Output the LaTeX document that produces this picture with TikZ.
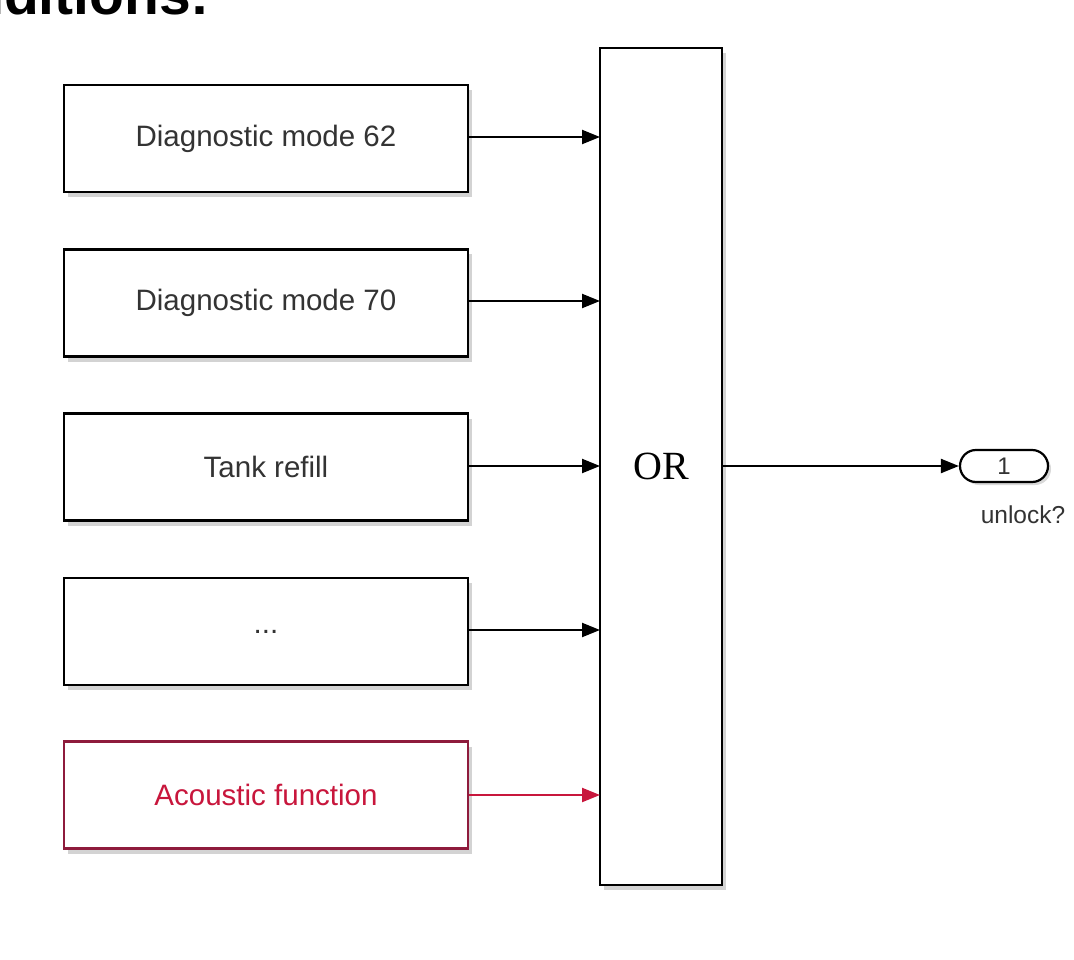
\documentclass[tikz,border=0pt]{standalone}
\usepackage{fontspec}
\setmainfont{Liberation Sans}
\newfontfamily\serifor{Liberation Serif}
\usetikzlibrary{arrows.meta,shadows}
\definecolor{txtgray}{HTML}{333333}
\definecolor{redborder}{HTML}{8E1B3C}
\definecolor{redtext}{HTML}{C8163C}
\begin{document}
\begin{tikzpicture}[x=1pt,y=-1pt,
  blk/.style={draw=black, line width=2.8pt, fill=white, minimum width=404pt, minimum height=107pt, inner sep=0pt,
    font=\fontsize{29.5}{32}\selectfont, text=txtgray,
    drop shadow={shadow xshift=4pt, shadow yshift=-5pt, opacity=0.35}},
  redblk/.style={blk, draw=redborder, text=redtext},
  conn/.style={line width=2.2pt, -{Triangle[length=18pt,width=14pt]}},
  redconn/.style={conn, draw=redtext},
]
\useasboundingbox (0,0) rectangle (1074,960);
\begin{scope}
\clip (0,0) rectangle (1074,960);
\node[anchor=base east, inner sep=0pt, font=\bfseries\fontsize{57}{60}\selectfont] (title) at (210,15) {conditions:};
\end{scope}
\node[blk] (b1) at (266,138.5) {Diagnostic mode 62};
\node[blk] (b2) at (266,303) {Diagnostic mode 70};
\node[blk] (b3) at (266,467) {Tank refill};
\node[blk] (b4) at (266,631.5) {...};
\node[redblk] (b5) at (266,795) {Acoustic function};
\node[draw=black, line width=2.8pt, fill=white, minimum width=122pt, minimum height=837pt, inner sep=0pt,
  font=\serifor\fontsize{40}{44}\selectfont,
  drop shadow={shadow xshift=4pt, shadow yshift=-5pt, opacity=0.35}] (or) at (661,466.5) {OR};
\node[draw=black, fill=white, line width=2.2pt, rounded corners=16pt, minimum width=88pt, minimum height=32pt, inner sep=0pt,
  font=\fontsize{24}{26}\selectfont, text=txtgray,
  drop shadow={shadow xshift=3pt, shadow yshift=-3pt, opacity=0.3}] (out) at (1004,466) {1};
\node[font=\fontsize{24.5}{26}\selectfont, text=txtgray, anchor=north] (outlbl) at (1023,502) {unlock?};
\coordinate (i1) at (600,137);
\coordinate (i2) at (600,301);
\coordinate (i3) at (600,466);
\coordinate (i4) at (600,630);
\coordinate (i5) at (600,795);
\draw[conn] (b1.east |- i1) -- (i1);
\draw[conn] (b2.east |- i2) -- (i2);
\draw[conn] (b3.east |- i3) -- (i3);
\draw[conn] (b4.east |- i4) -- (i4);
\draw[redconn] (b5.east |- i5) -- (i5);
\draw[conn] (or.east |- out.west) -- (out.west);
\end{tikzpicture}
\end{document}
